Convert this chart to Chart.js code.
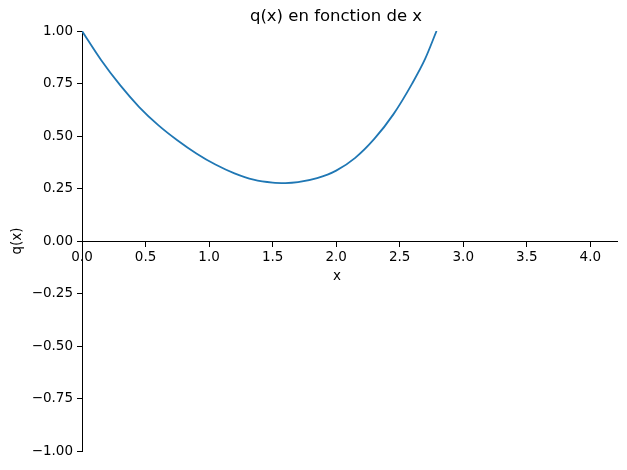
<!DOCTYPE html>
<html>
<head>
<meta charset="utf-8">
<script src="https://cdn.jsdelivr.net/npm/chart.js@4/dist/chart.umd.min.js"></script>
<style>
  body { margin: 0; background: #fff; }
</style>
</head>
<body>
<canvas id="qChart" width="627" height="470"></canvas>
<script>
// values
const xValues = [0, 0.15, 0.3, 0.45, 0.6, 0.75, 0.9, 1.05, 1.2, 1.35, 1.5, 1.6, 1.7, 1.85, 2.0, 2.15, 2.3, 2.45, 2.6, 2.7, 2.79];
const qValues = [1.0, 0.862, 0.742, 0.638, 0.552, 0.480, 0.417, 0.364, 0.322, 0.292, 0.278, 0.276, 0.280, 0.299, 0.335, 0.396, 0.486, 0.603, 0.752, 0.867, 1.0];
const xRange = [0, 4.21];
const yRange = [-1, 1];
const titleText = 'q(x) en fonction de x';
const xLabel = 'x';
const yLabel = 'q(x)';

const FONT = 'DejaVu Sans';

// title and axis labels, placed like the matplotlib figure
const labelsPlugin = {
  id: 'labels',
  afterDraw(chart) {
    const c = chart.ctx;
    const ys = chart.scales.y;
    c.save();
    c.fillStyle = '#000';
    c.textAlign = 'center';
    c.textBaseline = 'middle';
    c.font = '16.5px "' + FONT + '"';
    c.fillText(titleText, 336, 17);
    c.font = '13.5px "' + FONT + '"';
    c.fillText(xLabel, 337, ys.getPixelForValue(0) + 35);
    c.translate(17, (ys.top + ys.bottom) / 2);
    c.rotate(-Math.PI / 2);
    c.fillText(yLabel, 0, 0);
    c.restore();
  }
};

const points = xValues.map((x, i) => ({ x: x, y: qValues[i] }));

new Chart(document.getElementById('qChart'), {
  type: 'line',
  data: {
    datasets: [{
      data: points,
      borderColor: '#1f77b4',
      borderWidth: 1.8,
      pointRadius: 0,
      cubicInterpolationMode: 'monotone',
      fill: false
    }]
  },
  options: {
    responsive: false,
    animation: false,
    layout: { padding: { top: 31, right: 10, bottom: 19, left: 0 } },
    plugins: { legend: { display: false }, tooltip: { enabled: false } },
    scales: {
      x: {
        type: 'linear',
        position: { y: 0 },
        min: xRange[0],
        max: xRange[1],
        border: { display: true, color: '#000', width: 1 },
        grid: { display: true, drawOnChartArea: false, drawTicks: true, tickLength: 5, color: '#000' },
        ticks: {
          stepSize: 0.5,
          includeBounds: false,
          autoSkip: false,
          maxRotation: 0,
          padding: 3,
          color: '#000',
          font: { family: FONT, size: 13.5 },
          callback: v => v.toFixed(1)
        }
      },
      y: {
        type: 'linear',
        position: 'left',
        min: yRange[0],
        max: yRange[1],
        afterFit: s => { s.width = 82; },
        border: { display: true, color: '#000', width: 1 },
        grid: { display: true, drawOnChartArea: false, drawTicks: true, tickLength: 5, color: '#000' },
        ticks: {
          stepSize: 0.25,
          autoSkip: false,
          padding: 4,
          color: '#000',
          font: { family: FONT, size: 13.5 },
          callback: v => (v < 0 ? '\u2212' : '') + Math.abs(v).toFixed(2)
        }
      }
    }
  },
  plugins: [labelsPlugin]
});
</script>
</body>
</html>
